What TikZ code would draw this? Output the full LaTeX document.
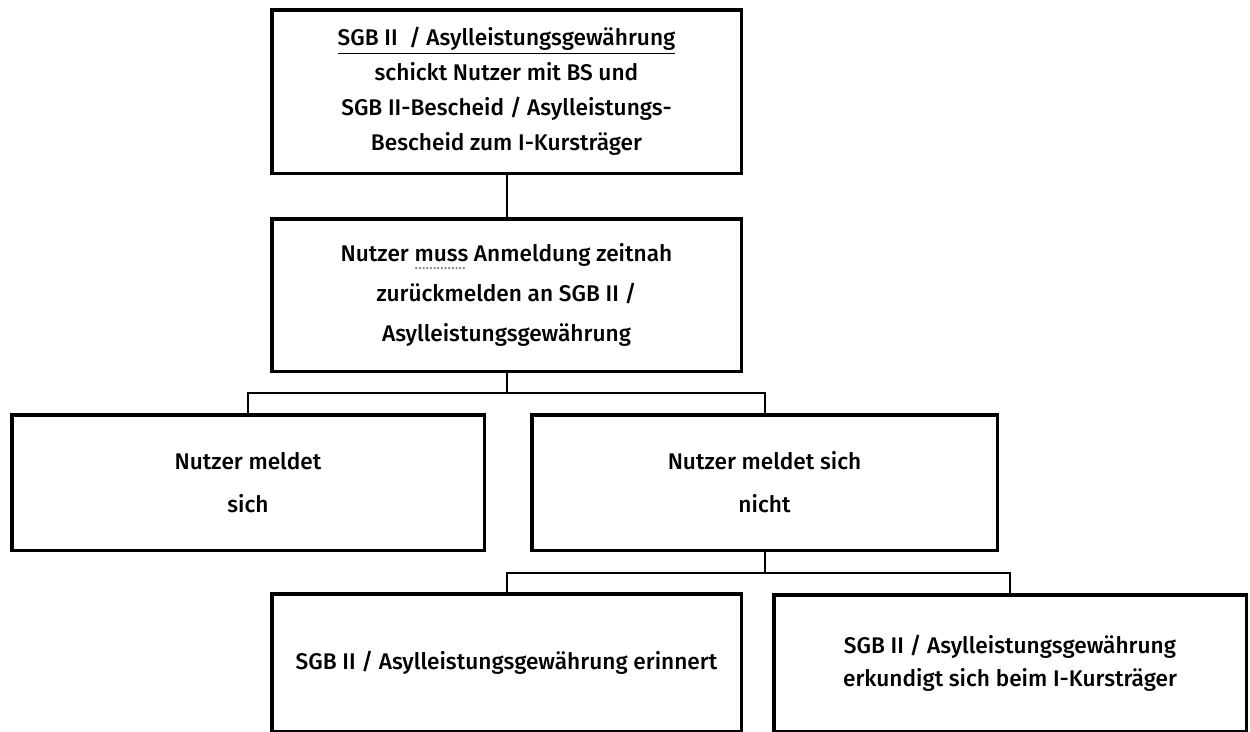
\documentclass[tikz,border=0pt]{standalone}
\usepackage{fontspec}
\setmainfont{Fira Sans}[UprightFont=* Medium]
% dotted underline drawn with leaders
\newcommand{\dotul}[1]{\setbox0\hbox{#1}\rlap{\raisebox{-4.5pt}{\hbox to \wd0{\color{gray}\leaders\hbox to 2.2pt{\hss\scalebox{0.6}{.}\hss}\hfil}}}#1}
\begin{document}
\begin{tikzpicture}[x=0.6pt,y=-0.6pt,
  box/.style={draw, line width=2.1pt, align=center, inner sep=0pt},
  link/.style={line width=1.2pt},
  txt/.style={font=\fontsize{13.6}{#1}\selectfont}]
\useasboundingbox (0,0) rectangle (1250,731);

% boxes (centre, stroke-centred width and height in px)
\node[box, txt=21, minimum width=469.5*0.6pt, minimum height=163.5*0.6pt] (b1) at (506.5,91.5)
  {\underline{SGB II~ / Asylleistungsgewährung}\\schickt Nutzer mit BS und\\SGB II-Bescheid / Asylleistungs-\\Bescheid zum I-Kursträger};
\node[box, txt=24, minimum width=469.5*0.6pt, minimum height=152.5*0.6pt] (b2) at (506.5,295)
  {Nutzer \dotul{muss} Anmeldung zeitnah\\zurückmelden an SGB II /\\Asylleistungsgewährung};
\node[box, txt=25.8, minimum width=472.5*0.6pt, minimum height=135.5*0.6pt] (b3) at (248,482.5)
  {Nutzer meldet\\sich};
\node[box, txt=25.8, minimum width=465.5*0.6pt, minimum height=135.5*0.6pt] (b4) at (764.5,482.5)
  {Nutzer meldet sich\\nicht};
\node[box, txt=20, minimum width=469.5*0.6pt, minimum height=137.5*0.6pt] (b5) at (506.5,662.5)
  {SGB II / Asylleistungsgewährung erinnert};
\node[box, txt=19.8, minimum width=472.5*0.6pt, minimum height=136.5*0.6pt] (b6) at (1010,663)
  {SGB II / Asylleistungsgewährung\\erkundigt sich beim I-Kursträger};

% junction points of the branching connectors
\coordinate (j1) at (506.5,393);
\coordinate (j2) at (764.5,573);

\draw[link] (b1.south) -- (b2.north);
\draw[link] (b2.south) -- (j1);
\draw[link] (b3.north) |- (j1) -| (b4.north);
\draw[link] (b4.south) -- (j2);
\draw[link] (b5.north) |- (j2) -| (b6.north);
\end{tikzpicture}
\end{document}
